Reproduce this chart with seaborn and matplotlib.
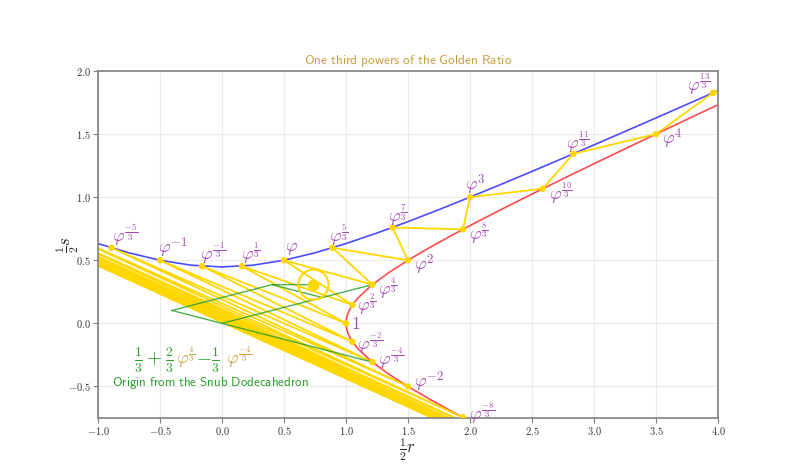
import numpy as np
import matplotlib
matplotlib.use("Agg")
import matplotlib.pyplot as plt
from matplotlib.ticker import FuncFormatter
import seaborn as sns

# powers phi^(k/3): numerator k and the point (r/2, s/2) of each power
k_num = list(range(-24, 15))
pt_u = [23.5, -19.9957, 17.0577, -14.5, 12.3860,
        -10.5094, 9.0, -7.6097, 6.5482, -5.5, 4.7762, -3.9612, 3.5, -2.8335,
        2.5871, -2.0, 1.9427, -1.3741, 1.5, -0.8908, 1.2130, -0.5, 1.0519,
        -0.1611, 1.0, 0.1611, 1.0519, 0.5, 1.2130, 0.8908, 1.5, 1.3741,
        1.9427, 2.0, 2.5871, 2.8335, 3.5, 3.9612, 4.7762]
pt_v = [-10.5, 8.9536, -7.6153, 6.5, -5.5211,
        4.7212, -4.0, 3.4325, -2.8941, 2.5, -2.0886, 1.8271, -1.5, 1.3438,
        -1.0671, 1.0, -0.7449, 0.7600, -0.5, 0.5989, -0.3070, 0.5, -0.1459,
        0.4530, 0.0, 0.4530, 0.1459, 0.5, 0.3070, 0.5989, 0.5, 0.7600,
        0.7449, 1.0, 1.0671, 1.3438, 1.5, 1.8271, 2.0886]
label_k = list(range(-8, 14))

# odd powers: (r/2)^2 - 5 (s/2)^2 = -1
blue_u = [-1.0, -0.75, -0.5, -0.25, 0.0, 0.25, 0.5, 0.75, 1.0, 1.25, 1.5,
          1.75, 2.0, 2.25, 2.5, 2.75, 3.0, 3.25, 3.5, 3.75, 4.0]
blue_v = [0.632456, 0.559017, 0.5, 0.460977, 0.447214, 0.460977, 0.5,
          0.559017, 0.632456, 0.715891, 0.806226, 0.901388, 1.0, 1.101136,
          1.204159, 1.308625, 1.414214, 1.520691, 1.627882, 1.735655, 1.843909]

# even powers: (r/2)^2 - 5 (s/2)^2 = 1
red_v = [-0.8, -0.7, -0.6, -0.5, -0.4, -0.3, -0.2, -0.15, -0.1, -0.05, 0.0,
         0.05, 0.1, 0.15, 0.2, 0.3, 0.4, 0.5, 0.6, 0.7, 0.8, 0.9, 1.0, 1.1,
         1.2, 1.3, 1.4, 1.5, 1.6, 1.7, 1.8]
red_u = [2.049390, 1.857418, 1.673320, 1.5, 1.341641, 1.204159, 1.095445,
         1.054751, 1.024695, 1.006231, 1.0, 1.006231, 1.024695, 1.054751,
         1.095445, 1.204159, 1.341641, 1.5, 1.673320, 1.857418, 2.049390,
         2.247221, 2.449490, 2.655184, 2.863564, 3.074085, 3.286335, 3.5,
         3.714835, 3.930649, 4.147288]

# snub dodecahedron origin: 1/3 + 2/3 phi^(4/3) - 1/3 phi^(-4/3)
path_u = [-0.4043, 0.4043, 0.7377]
path_v = [0.1023, 0.3070, 0.3070]
diag_u = [-0.4043, 1.2130]
diag_v = [0.1023, -0.3070]
ray_u = [0.0, 1.2130]
ray_v = [0.0, 0.3070]
side_u = [0.4043, 0.8087]
side_v = [0.3070, 0.2047]
origin_u, origin_v = 0.7377, 0.3070

gold = "#ffd700"
purple = "#a04cb4"
green = "#2ca02c"
gold_txt = "#c9a13f"

sns.set_style("ticks", {"axes.grid": True, "grid.color": "#ebebeb",
                        "axes.edgecolor": "#808080"})
plt.rcParams["mathtext.fontset"] = "cm"
plt.rcParams["font.family"] = ["DejaVu Serif"]

fig = plt.figure(figsize=(8, 4.69), dpi=100)
ax = fig.add_axes([0.1225, 0.1087, 0.775, 0.74])

sns.lineplot(x=blue_u, y=blue_v, sort=False, estimator=None, color="blue",
             alpha=0.7, lw=1.2, ax=ax)
sns.lineplot(x=red_u, y=red_v, sort=False, estimator=None, color="red",
             alpha=0.7, lw=1.2, ax=ax)
sns.lineplot(x=pt_u, y=pt_v, sort=False, estimator=None, color=gold,
             lw=1.3, ax=ax)

for xs, ys in [(path_u, path_v), (diag_u, diag_v), (ray_u, ray_v), (side_u, side_v)]:
    sns.lineplot(x=xs, y=ys, sort=False, estimator=None, color=green,
                 alpha=0.85, lw=1.0, ax=ax)

sns.scatterplot(x=pt_u, y=pt_v, color=gold, s=22, edgecolor="none", zorder=4, ax=ax)
ax.scatter([origin_u], [origin_v], s=55, color=gold, zorder=5)
ax.scatter([origin_u], [origin_v], s=470, facecolor="none", edgecolor=gold,
           lw=1.5, zorder=5)

for k, u, v in zip(k_num, pt_u, pt_v):
    if k not in label_k:
        continue
    if k % 3 == 0:
        n = k // 3
        lab = "$1$" if n == 0 else (r"$\varphi$" if n == 1 else r"$\varphi^{%d}$" % n)
    else:
        lab = r"$\varphi^{\frac{%d}{3}}$" % k
    sgn = 1 if k % 2 == 0 else -1
    nx, ny = sgn * u, -sgn * 5 * v
    nn = np.hypot(nx, ny)
    nx, ny = nx / nn, ny / nn
    if sgn > 0:
        off, ha = (6, 5 * ny), "left"
        if k == 0:
            off = (5, -1)
        elif k == 2:
            off = (5, 1)
        elif k == -2:
            off = (5, -2)
    else:
        off, ha = (10 + 13 * nx, 13 * ny), "center"
    if u > 3.8:
        off, ha = (-2, 8), "right"
    ax.annotate(lab, (u, v), xytext=off, textcoords="offset pixels",
                ha=ha, va="center", color=purple, fontsize=13, zorder=6)

ax.text(-0.71, -0.29, r"$\frac{1}{3}+\frac{2}{3}$", color=green, fontsize=14, va="center")
ax.text(-0.37, -0.27, r"$\varphi^{\frac{4}{3}}$", color=gold_txt, fontsize=13, va="center")
ax.text(-0.21, -0.29, r"$-\frac{1}{3}$", color=green, fontsize=14, va="center")
ax.text(0.03, -0.27, r"$\varphi^{\frac{-4}{3}}$", color=gold_txt, fontsize=13, va="center")
ax.text(-0.89, -0.47, r"$\mathsf{Origin\ from\ the\ Snub\ Dodecahedron}$",
        color=green, fontsize=9.4, va="center")

ax.set_xlim(-1, 4)
ax.set_ylim(-0.75, 2)
ax.set_xticks(np.arange(-1, 4.01, 0.5))
ax.set_yticks(np.arange(-0.5, 2.01, 0.5))
fmt = FuncFormatter(lambda x, pos: "$%.1f$" % x)
ax.xaxis.set_major_formatter(fmt)
ax.yaxis.set_major_formatter(fmt)
ax.tick_params(labelsize=7.5, colors="#808080", labelcolor="#333333", length=3.5, pad=1.5)
for sp in ax.spines.values():
    sp.set_linewidth(1.2)

ax.set_xlabel(r"$\frac{1}{2}r$", fontsize=12, labelpad=0)
ax.set_ylabel(r"$\frac{1}{2}s$", fontsize=12, labelpad=-9)
ax.set_title(r"$\mathsf{One\ third\ powers\ of\ the\ Golden\ Ratio}$",
             color=gold_txt, fontsize=9.6, pad=5)

fig.savefig("out.png", dpi=100)
